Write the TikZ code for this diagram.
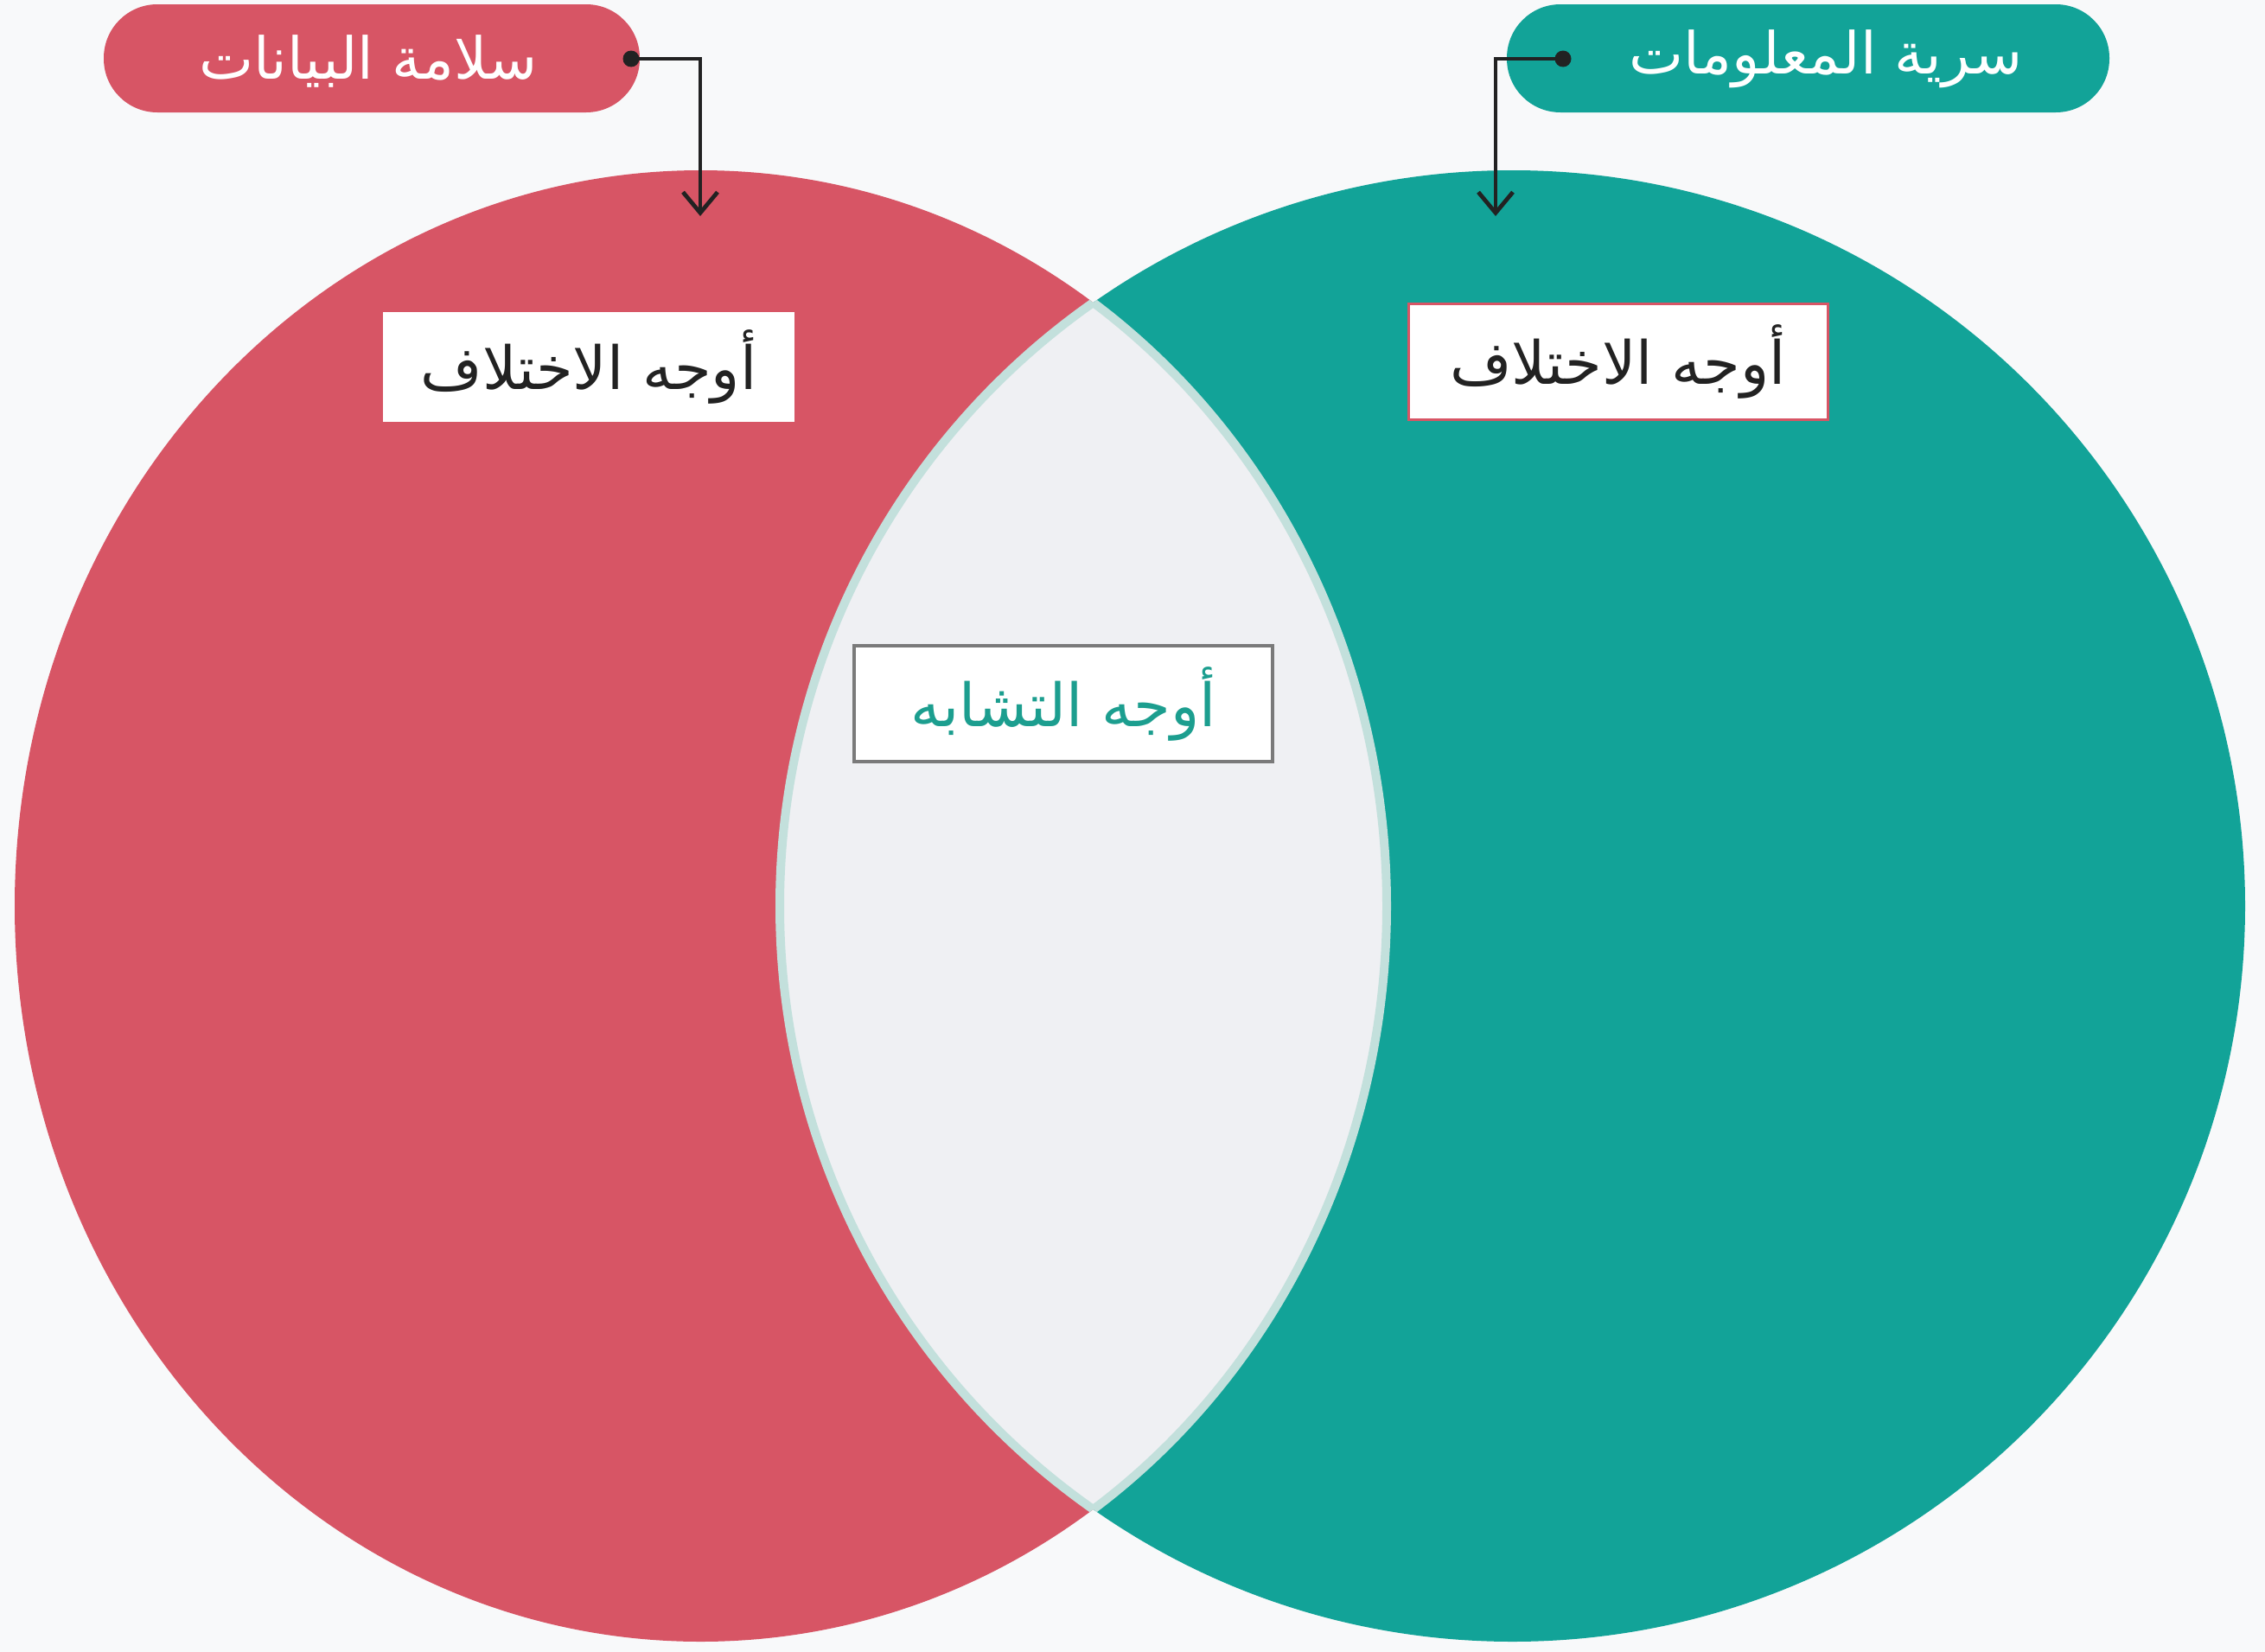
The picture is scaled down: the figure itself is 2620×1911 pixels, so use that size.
\documentclass[tikz,border=0pt]{standalone}
\usepackage{fontspec}
\setmainfont{DejaVu Sans}
\newfontfamily\arabicfont[Script=Arabic]{DejaVu Sans}
\TeXXeTstate=1
\usetikzlibrary{arrows.meta}
\definecolor{redc}{HTML}{D75565}
\definecolor{tealc}{HTML}{12A398}
\definecolor{bgc}{HTML}{F8F9FA}
\definecolor{lensc}{HTML}{EFF0F3}
\definecolor{lensline}{HTML}{C3E0DC}
\definecolor{textteal}{HTML}{1C9E8F}
\definecolor{darktext}{HTML}{222222}
\definecolor{greyline}{HTML}{7A7A7A}
\begin{document}
\begin{tikzpicture}[x=0.5pt,y=-0.5pt,
  pill/.style={rounded corners=31pt, minimum height=62.5pt, inner sep=0pt},
  pilltext/.style={text=white, font=\arabicfont\fontsize{33.5}{38}\selectfont, inner sep=0pt},
  boxnode/.style={fill=white, minimum height=63.5pt, inner sep=0pt, font=\arabicfont\fontsize{34.5}{40}\selectfont},
  dotn/.style={circle, fill=darktext, minimum size=9.5pt, inner sep=0pt},
  conn/.style={draw=darktext, line width=2.4pt, -{Straight Barb[length=12pt,width=20pt,line width=2.4pt]}}
]
\useasboundingbox (0,0) rectangle (2620,1911);
\fill[bgc] (0,0) rectangle (2620,1911);
% circles
\fill[redc] (810.5,1048) ellipse [x radius=793.5, y radius=851];
\fill[tealc] (1749.5,1048) ellipse [x radius=847.5, y radius=851];
% lens
\begin{scope}
  \clip (810.5,1048) ellipse [x radius=793.5, y radius=851];
  \fill[lensc] (1749.5,1048) ellipse [x radius=847.5, y radius=851];
  \draw[lensline, line width=5pt] (1749.5,1048) ellipse [x radius=847.5, y radius=851];
\end{scope}
\begin{scope}
  \clip (1749.5,1048) ellipse [x radius=847.5, y radius=851];
  \draw[lensline, line width=5pt] (810.5,1048) ellipse [x radius=793.5, y radius=851];
\end{scope}
% pills
\node[pill, fill=redc, minimum width=310pt] (lpill) at (430,67.5) {};
\node[pilltext] (lpilltext) at (426,71) {\beginR سلامة البيانات\endR};
\node[pill, fill=tealc, minimum width=348.5pt] (rpill) at (2091.5,67.5) {};
\node[pilltext] (rpilltext) at (2112,68) {\beginR سرية المعلومات\endR};
% connectors
\node[dotn] (ldot) at (730,68) {};
\coordinate (ltip) at (810,250);
\draw[conn] (ldot.center) -| (ltip);
\node[dotn] (rdot) at (1808,68) {};
\coordinate (rtip) at (1730,250);
\draw[conn] (rdot.center) -| (rtip);
% boxes
\node[boxnode, minimum width=238pt, text=darktext] (ldiff) at (681,424.5) {\beginR أوجه الاختلاف\endR};
\node[boxnode, minimum width=242.5pt, minimum height=67pt, draw=redc, line width=1.5pt, text=darktext] (rdiff) at (1871.5,418) {\beginR أوجه الاختلاف\endR};
\node[boxnode, minimum width=242pt, minimum height=67pt, draw=greyline, line width=2pt, text=textteal] (sim) at (1230,814) {\beginR أوجه التشابه\endR};
\end{tikzpicture}
\end{document}
